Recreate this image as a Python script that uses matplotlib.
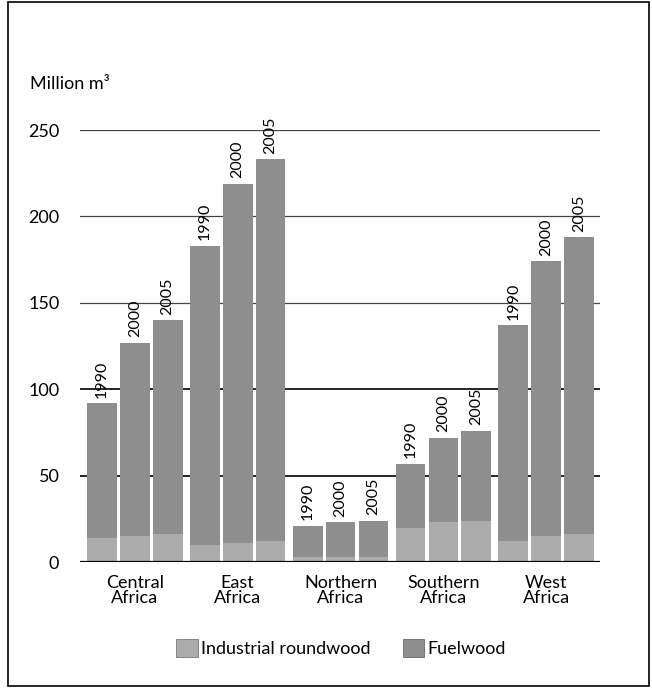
import numpy as np
import matplotlib.pyplot as plt
from matplotlib.patches import Rectangle, Patch

regions = ["Central\nAfrica", "East\nAfrica", "Northern\nAfrica", "Southern\nAfrica", "West\nAfrica"]
years = ["1990", "2000", "2005"]

# totals (industrial + fuelwood), million m3
total = np.array([
    [92, 127, 140],
    [183, 219, 233],
    [21, 23, 24],
    [57, 72, 76],
    [137, 174, 188],
])
industrial = np.array([
    [14, 15, 16],
    [10, 11, 12],
    [3, 3, 3],
    [20, 23, 24],
    [12, 15, 16],
])
fuelwood = total - industrial

plt.rcParams['font.family'] = ['Lato', 'DejaVu Sans']

fig = plt.figure(figsize=(6.52, 6.88), dpi=100)
ax = fig.add_axes([0.123, 0.183, 0.797, 0.628])

light = "#ababab"
dark = "#8e8e8e"
step = 0.32
w = 0.29
x = np.arange(len(regions))

for j, yr in enumerate(years):
    xs = x + (j - 1) * step
    ax.bar(xs, industrial[:, j], w, color=light, edgecolor="none", zorder=2)
    ax.bar(xs, fuelwood[:, j], w, bottom=industrial[:, j], color=dark, edgecolor="none", zorder=2)
    for xi, t in zip(xs, total[:, j]):
        ax.annotate(yr, (xi, t), xytext=(0, 4), textcoords="offset points",
                    rotation=90, ha="center", va="bottom", fontsize=11.5, zorder=3)

ax.set_xlim(-0.53, 4.52)
ax.set_ylim(0, 250)
ax.set_yticks([0, 50, 100, 150, 200, 250])
for v in [50, 100, 150, 200, 250]:
    if v <= 100:
        ax.axhline(v, color="black", lw=1.2, zorder=1)
    else:
        ax.axhline(v, color="#444444", lw=0.9, zorder=1)
ax.axhline(0, color="black", lw=1.6, zorder=4)
ax.set_xticks(x)
ax.set_xticklabels(regions, fontsize=13, linespacing=0.95)
ax.tick_params(axis="x", length=0, pad=9)
ax.tick_params(axis="y", length=0, labelsize=13, pad=15)
for s in ax.spines.values():
    s.set_visible(False)

fig.text(0.046, 0.878, "Million m³", fontsize=13, ha="left", va="center")

handles = [Patch(facecolor=light, edgecolor="#666666", lw=0.5),
           Patch(facecolor=dark, edgecolor="#555555", lw=0.5)]
fig.legend(handles, ["Industrial roundwood", "Fuelwood"], loc="center",
           bbox_to_anchor=(0.523, 0.058), ncol=2, frameon=False, fontsize=13,
           handlelength=1.2, handleheight=1.2, handletextpad=0.15, columnspacing=1.8)

fig.patches.append(Rectangle((0.012, 0.003), 0.983, 0.994, transform=fig.transFigure,
                             fill=False, edgecolor="black", lw=1.2))

fig.savefig("out.png", dpi=100)
